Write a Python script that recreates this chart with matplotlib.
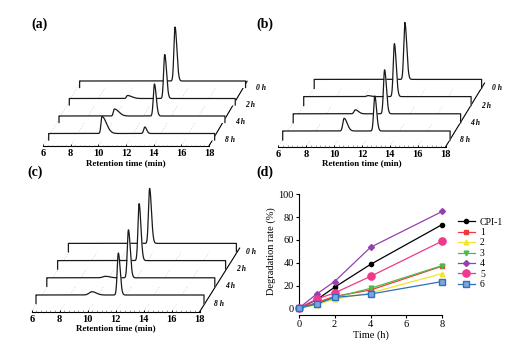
import numpy as np
import matplotlib.pyplot as plt

plt.rcParams['font.family'] = ['Liberation Serif', 'DejaVu Serif']

W, H = 521, 341

# HPLC traces, listed 0 h, 2 h, 4 h, 8 h
hours = ['0 h', '2 h', '4 h', '8 h']
t_min = np.linspace(6, 18, 2400)

# (a) main peak and degradation product peak
a_main_rt = [12.9, 12.9, 12.9, 12.95]
a_main_h = [54, 44, 32, 6.5]
a_prod_rt = [10.2, 10.2, 10.0, 9.85]
a_prod_h = [0, 3, 7, 17]

# (b)
b_main_rt = [12.5, 12.5, 12.55, 12.6]
b_main_h = [57, 53, 44, 35]
b_prod_rt = [10.6, 10.6, 10.45, 10.4]
b_prod_h = [0, 1, 4, 12.7]

# (c)
c_main_rt = [11.8, 11.82, 11.83, 11.88]
c_main_h = [55, 57, 48, 42]
c_prod_rt = [10.2, 10.2, 10.2, 10.0]
c_prod_h = [0, 0, 1.5, 3.3]

# (d) degradation rate (%) vs time (h)
time_h = [0, 1, 2, 4, 8]
series_names = ['CPI-1', '1', '2', '3', '4', '5', '6']
rate_cpi1 = [0, 7.5, 18.5, 38.5, 73.5]
rate_1 = [0, 5, 10.5, 16, 37]
rate_2 = [0, 3, 8, 13.5, 30.5]
rate_3 = [0, 4, 9.5, 17.5, 37.5]
rate_4 = [0, 12.5, 23.5, 53.5, 85]
rate_5 = [0, 8, 13.5, 28, 59]
rate_6 = [0, 4, 9.5, 12.5, 23.5]


def peak(t, rt, h, sl, sr):
    s = np.where(t < rt, sl, sr)
    return h * np.exp(-0.5 * ((t - rt) / s) ** 2)


fig = plt.figure(figsize=(W / 100, H / 100), dpi=100)


def add_box(l, t, r, b):
    return fig.add_axes([l / W, 1 - b / H, (r - l) / W, (b - t) / H])


def waterfall(x6, y0, ppm, off, step, lift, main_rt, main_h, prod_rt, prod_h, prod_w):
    # y units are pixels above the front floor edge, x units are minutes
    l, t, r, b = x6 - 25, y0 - 140, x6 + 235, y0 + 25
    ax = add_box(l, t, r, b)
    ax.set_xlim(6 + (l - x6) / ppm, 6 + (r - x6) / ppm)
    ax.set_ylim(y0 - b, y0 - t)
    ax.axis('off')
    ax.patch.set_alpha(0)

    depth_x = step[0] / ppm
    n_deep = 3.7
    for v in range(6, 19, 2):
        xs = [v, v + n_deep * depth_x]
        ys = [0, n_deep * step[1]]
        if v == 18:
            ax.plot(xs, ys, color='k', lw=0.8, zorder=1)
        else:
            ax.plot(xs, ys, color='#d2d2d2', lw=0.5, ls=(0, (2, 2)), zorder=0)

    ax.plot([6, 18], [0, 0], color='k', lw=0.8, zorder=1)
    ax.vlines(np.arange(6, 18.01, 1 / 3), 0, 1.3, color='#555555', lw=0.4)
    ax.vlines(range(6, 19, 2), 0, 2.2, color='k', lw=0.6)
    for v in range(6, 19, 2):
        ax.text(v, -8, str(v), ha='center', va='center', fontsize=7.5,
                fontweight='bold')
    ax.text(12, -16.8, 'Retention time (min)', ha='center', va='center',
            fontsize=6.5, fontweight='bold')

    for i, lab in enumerate(hours):
        d = 3 - i
        sx = (off[0] + d * step[0]) / ppm
        floor = off[1] + d * step[1]
        base = floor + lift
        sig = (peak(t_min, main_rt[i], main_h[i], 0.08, 0.13)
               + peak(t_min, prod_rt[i], prod_h[i], *prod_w))
        y = base + sig
        xs = t_min + sx
        ax.fill_between(xs, floor, y, color='white', lw=0, zorder=10 - 2 * d)
        ax.plot(np.r_[xs[0], xs, xs[-1]], np.r_[floor, y, floor],
                color='#1a1a1a', lw=0.9, zorder=11 - 2 * d)
        ax.text(18 + sx + 15 / ppm, floor, lab, ha='center', va='center',
                fontsize=5.5, fontweight='bold', style='italic', zorder=12)
    return ax


waterfall(43, 146, 13.83, (5.7, 6.0), (10.3, 17.5), 6.5,
          a_main_rt, a_main_h, a_prod_rt, a_prod_h, (0.07, 0.32))
waterfall(278.3, 146.7, 13.95, (4.4, 6.7), (10.5, 17.2), 9,
          b_main_rt, b_main_h, b_prod_rt, b_prod_h, (0.09, 0.22))
waterfall(31.7, 311.7, 14.0, (4.3, 8.2), (10.8, 17.2), 8.5,
          c_main_rt, c_main_h, c_prod_rt, c_prod_h, (0.2, 0.3))

for tag, px, py in [('(a)', 40, 24), ('(b)', 265, 24), ('(c)', 35, 172), ('(d)', 265, 172)]:
    fig.text(px / W, 1 - py / H, tag, ha='center', va='center', fontsize=10,
             fontweight='bold')

# (d) degradation kinetics
ax = add_box(298.7, 194.3, 442.3, 308.3)
rates = [rate_cpi1, rate_1, rate_2, rate_3, rate_4, rate_5, rate_6]
colors = ['#000000', '#f03a3a', '#f2e52a', '#52b848', '#9640b0', '#ee3a8c', '#2f6fbf']
markers = ['o', 's', '^', 'v', 'D', 'o', 's']
sizes = [3, 3.2, 3.4, 3.4, 3, 5.2, 5]
for name, vals, c, m, ms in zip(series_names, rates, colors, markers, sizes):
    face = '#7fa6db' if name == '6' else c
    ax.plot(time_h, vals, color=c, marker=m, ms=ms, mfc=face, mec=c, lw=0.9,
            clip_on=False, label=name, zorder=3)

ax.set_xlim(0, 8)
ax.set_ylim(0, 100)
ax.set_xticks([0, 2, 4, 6, 8])
ax.set_yticks([0, 20, 40, 60, 80, 100])
for s in ['top', 'right']:
    ax.spines[s].set_visible(False)
ax.spines['bottom'].set_position(('outward', 5))
for s in ['left', 'bottom']:
    ax.spines[s].set_linewidth(0.8)
ax.tick_params(labelsize=7.5, length=2.5, width=0.8, pad=1)
ax.set_xlabel('Time (h)', fontsize=7.5, labelpad=1)
ax.set_ylabel('Degradation rate (%)', fontsize=7.5, labelpad=2)
ax.legend(loc='upper left', bbox_to_anchor=(1.08, 0.83), frameon=False,
          fontsize=7, handlelength=1.8, handletextpad=0.5, labelspacing=0.15,
          borderaxespad=0)

fig.savefig('out.png', dpi=100)
